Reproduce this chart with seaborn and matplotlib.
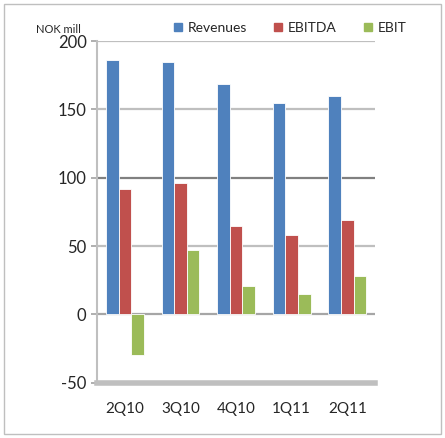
import pandas as pd
import matplotlib.pyplot as plt
import matplotlib.patches as mpatches
import seaborn as sns

# Values (NOK mill)
quarters = ['2Q10', '3Q10', '4Q10', '1Q11', '2Q11']
revenues = [186, 185, 169, 155, 160]
ebitda = [92, 96, 65, 58, 69]
ebit = [-30, 47, 21, 15, 28]
series = ['Revenues', 'EBITDA', 'EBIT']
colors = ['#4F81BD', '#C0504D', '#9BBB59']

df = pd.DataFrame({
    'quarter': quarters * 3,
    'series': ['Revenues'] * 5 + ['EBITDA'] * 5 + ['EBIT'] * 5,
    'value': revenues + ebitda + ebit,
})

sns.set_theme(style='white')
plt.rcParams['font.family'] = ['Lato', 'DejaVu Sans']
plt.rcParams['axes.unicode_minus'] = False

fig = plt.figure(figsize=(4.45, 4.38), dpi=100)
ax = fig.add_axes([0.218, 0.126, 0.625, 0.78])

sns.barplot(data=df, x='quarter', y='value', hue='series', hue_order=series,
            palette=colors, saturation=1, width=0.68, ax=ax, legend=False,
            edgecolor='white', linewidth=0.6)

# gridlines
for v in [200, 150, 100, 50]:
    ax.axhline(v, color='#808080' if v == 100 else '#BFBFBF', lw=1.6, zorder=0)
ax.axhline(0, color='#A6A6A6', lw=1.6, zorder=0)

ax.set_ylim(-50, 200)
ax.set_xlim(-0.5, 4.5)
ax.set_yticks([-50, 0, 50, 100, 150, 200])
ax.tick_params(axis='y', labelsize=12, length=4, color='#A6A6A6', left=True)
ax.tick_params(axis='x', labelsize=11, length=0, pad=14)
ax.set_xlabel('')
ax.set_ylabel('')
for s in ['top', 'right']:
    ax.spines[s].set_visible(False)
ax.spines['left'].set_color('#BFBFBF')
ax.spines['left'].set_linewidth(1.5)
ax.spines['bottom'].set_color('#BFBFBF')
ax.spines['bottom'].set_linewidth(4)

fig.text(0.08, 0.925, 'NOK mill', fontsize=8)

handles = [mpatches.Patch(color=c, label=s) for s, c in zip(series, colors)]
fig.legend(handles=handles, loc='center', bbox_to_anchor=(0.652, 0.936), ncol=3,
           frameon=False, fontsize=10, handlelength=0.55, handleheight=0.55,
           columnspacing=2.0, handletextpad=0.4)

fig.patches.append(mpatches.Rectangle((0.01, 0.01), 0.98, 0.98, transform=fig.transFigure,
                                      fill=False, edgecolor='#BFBFBF', lw=1))

fig.savefig('out.png', dpi=100)
